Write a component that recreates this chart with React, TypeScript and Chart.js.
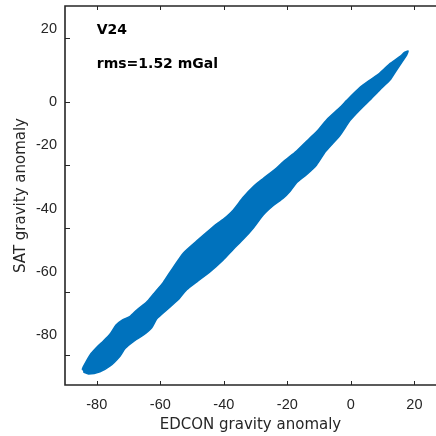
import React, { useEffect, useRef } from "react";
import { Chart, registerables } from "chart.js";

Chart.register(...registerables);

// Axis ticks and texts
const xTicks = [-80, -60, -40, -20, 0, 20];
const yTicks = [-80, -60, -40, -20, 0, 20];
const xTitle = "EDCON gravity anomaly";
const yTitle = "SAT gravity anomaly";
const modelLabel = "V24";
const rmsLabel = "rms=1.52 mGal";

// Outline of the dense point cloud (EDCON vs SAT)
const upperX = [-84.6, -84.2, -82.1, -80.0, -77.9, -75.8, -74.0, -72.0, -69.5, -67.4, -64.3, -62.2, -59.0, -56.5, -52.7, -48.5, -45.4, -42.2, -40.2, -37.0, -33.9, -30.7, -27.6, -23.4, -21.3, -17.1, -12.9, -10.8, -7.6, -3.4, -1.3, 2.8, 6.0, 9.1, 12.3, 15.4, 17.0, 18.0];
const upperY = [-84.7, -83.7, -80.0, -77.6, -75.6, -73.4, -70.6, -69.0, -67.8, -65.8, -63.3, -60.8, -57.0, -53.2, -47.8, -44.0, -41.3, -38.6, -37.2, -34.2, -30.2, -26.8, -24.3, -21.0, -19.0, -15.6, -11.5, -9.5, -5.7, -1.8, 0.4, 4.4, 6.8, 9.0, 12.0, 14.2, 15.6, 16.0];
const lowerX = [-84.2, -82.6, -79.0, -75.8, -72.7, -71.1, -68.5, -65.3, -62.7, -61.1, -58.0, -54.4, -51.7, -48.5, -44.3, -40.2, -37.0, -33.9, -30.7, -27.6, -24.4, -21.3, -19.2, -17.1, -13.9, -10.8, -8.0, -3.4, -0.3, 2.8, 6.0, 9.1, 12.3, 14.4, 16.5, 17.5];
const lowerY = [-85.4, -86.0, -85.3, -83.5, -80.4, -78.0, -75.8, -73.7, -71.4, -68.6, -65.8, -62.6, -59.4, -56.9, -53.7, -50.0, -46.6, -43.5, -39.9, -35.8, -32.8, -30.5, -28.4, -25.6, -23.0, -20.0, -15.8, -10.6, -6.0, -2.6, 0.5, 3.7, 6.8, 10.0, 13.1, 14.6];

const BLUE = "#0072BD";
const INK = "#262626";
const TICK_FONT = "'Liberation Sans', Arial, Helvetica, sans-serif";
const TITLE_FONT = "'DejaVu Sans', sans-serif";

const annotX = -80;
const annotY1 = 22.6;
const annotY2 = 11.8;

export default function App() {
  const ref = useRef<HTMLCanvasElement | null>(null);

  useEffect(() => {
    const canvas = ref.current;
    if (!canvas) return;
    let chart: any = null;
    let cancelled = false;

    const polygon = [
      ...upperX.map((x, i) => ({ x, y: upperY[i] })),
      ...lowerX.map((x, i) => ({ x, y: lowerY[i] })).reverse(),
    ];

    const framePlugin = {
      id: "frame",
      afterDatasetsDraw(c: any) {
        const { ctx, chartArea } = c;
        const { left, right, top, bottom } = chartArea;
        const xs = c.scales.x;
        const ys = c.scales.y;
        ctx.save();
        ctx.strokeStyle = INK;
        ctx.lineWidth = 1;
        xs.ticks.forEach((t: any) => {
          const px = Math.round(xs.getPixelForValue(t.value)) + 0.5;
          ctx.beginPath();
          ctx.moveTo(px, bottom);
          ctx.lineTo(px, bottom - 4);
          ctx.moveTo(px, top);
          ctx.lineTo(px, top + 4);
          ctx.stroke();
        });
        ys.ticks.forEach((t: any) => {
          const py = Math.round(ys.getPixelForValue(t.value)) + 0.5;
          ctx.beginPath();
          ctx.moveTo(left, py);
          ctx.lineTo(left + 5, py);
          ctx.stroke();
        });
        ctx.lineWidth = 1.6;
        ctx.beginPath();
        ctx.moveTo(right, top);
        ctx.lineTo(left, top);
        ctx.lineTo(left, bottom);
        ctx.lineTo(right, bottom);
        ctx.stroke();

        ctx.fillStyle = "#000";
        ctx.font = `bold 14px ${TITLE_FONT}`;
        ctx.textAlign = "left";
        ctx.textBaseline = "middle";
        const ax = xs.getPixelForValue(annotX);
        ctx.fillText(modelLabel, ax, ys.getPixelForValue(annotY1));
        ctx.fillText(rmsLabel, ax, ys.getPixelForValue(annotY2));
        ctx.restore();
      },
    };

    const build = () => {
      if (cancelled) return;
      chart = new Chart(canvas, {
        type: "scatter",
        data: {
          datasets: [
            {
              data: polygon,
              showLine: true,
              fill: "shape",
              backgroundColor: BLUE,
              borderColor: BLUE,
              borderWidth: 1.5,
              pointRadius: 0,
              tension: 0.2,
            },
          ],
        },
        options: {
          animation: false,
          responsive: false,
          maintainAspectRatio: false,
          layout: { padding: { top: 6, right: 0, bottom: 0, left: 0 } },
          plugins: {
            legend: { display: false },
            tooltip: { enabled: false },
          },
          scales: {
            x: {
              type: "linear",
              min: -90,
              max: 26.8,
              afterBuildTicks: (s: any) => {
                s.ticks = xTicks.map((v) => ({ value: v }));
              },
              afterFit: (s: any) => {
                s.height = 51;
                s.paddingLeft = 0;
                s.paddingRight = 0;
              },
              grid: { display: false, drawTicks: false },
              border: { display: false },
              ticks: {
                autoSkip: false,
                maxRotation: 0,
                padding: 11,
                color: INK,
                font: { family: TICK_FONT, size: 14.5 },
                callback: (v: any) => String(v),
              },
              title: {
                display: true,
                text: xTitle,
                color: INK,
                font: { family: TITLE_FONT, size: 15 },
                padding: { top: 0, bottom: 2 },
              },
            },
            y: {
              type: "linear",
              min: -89.5,
              max: 30.2,
              afterBuildTicks: (s: any) => {
                s.ticks = yTicks.map((v) => ({ value: v }));
              },
              afterFit: (s: any) => {
                s.width = 65;
                s.paddingTop = 0;
                s.paddingBottom = 0;
              },
              grid: { display: false, drawTicks: false },
              border: { display: false },
              ticks: {
                autoSkip: false,
                padding: 8,
                color: INK,
                font: { family: TICK_FONT, size: 14.5, lineHeight: 19.5 / 14.5 },
                callback: (v: any) =>
                  v === 0 ? "0" : v === 20 ? [String(v), ""] : [String(v), "", ""],
              },
              title: {
                display: true,
                text: yTitle,
                color: INK,
                font: { family: TITLE_FONT, size: 15 },
                padding: { top: 12, bottom: 0 },
              },
            },
          },
        },
        plugins: [framePlugin],
      } as any);
    };

    const fonts: any = (document as any).fonts;
    if (fonts && fonts.load) {
      Promise.all([
        fonts.load("14.5px 'Liberation Sans'"),
        fonts.load("15px 'DejaVu Sans'"),
        fonts.load("bold 14px 'DejaVu Sans'"),
      ])
        .catch(() => null)
        .then(build);
    } else {
      build();
    }

    return () => {
      cancelled = true;
      if (chart) chart.destroy();
    };
  }, []);

  return (
    <div style={{ position: "fixed", left: 0, top: 0, width: 436, height: 436, background: "#fff" }}>
      <canvas ref={ref} width={436} height={436} />
    </div>
  );
}
